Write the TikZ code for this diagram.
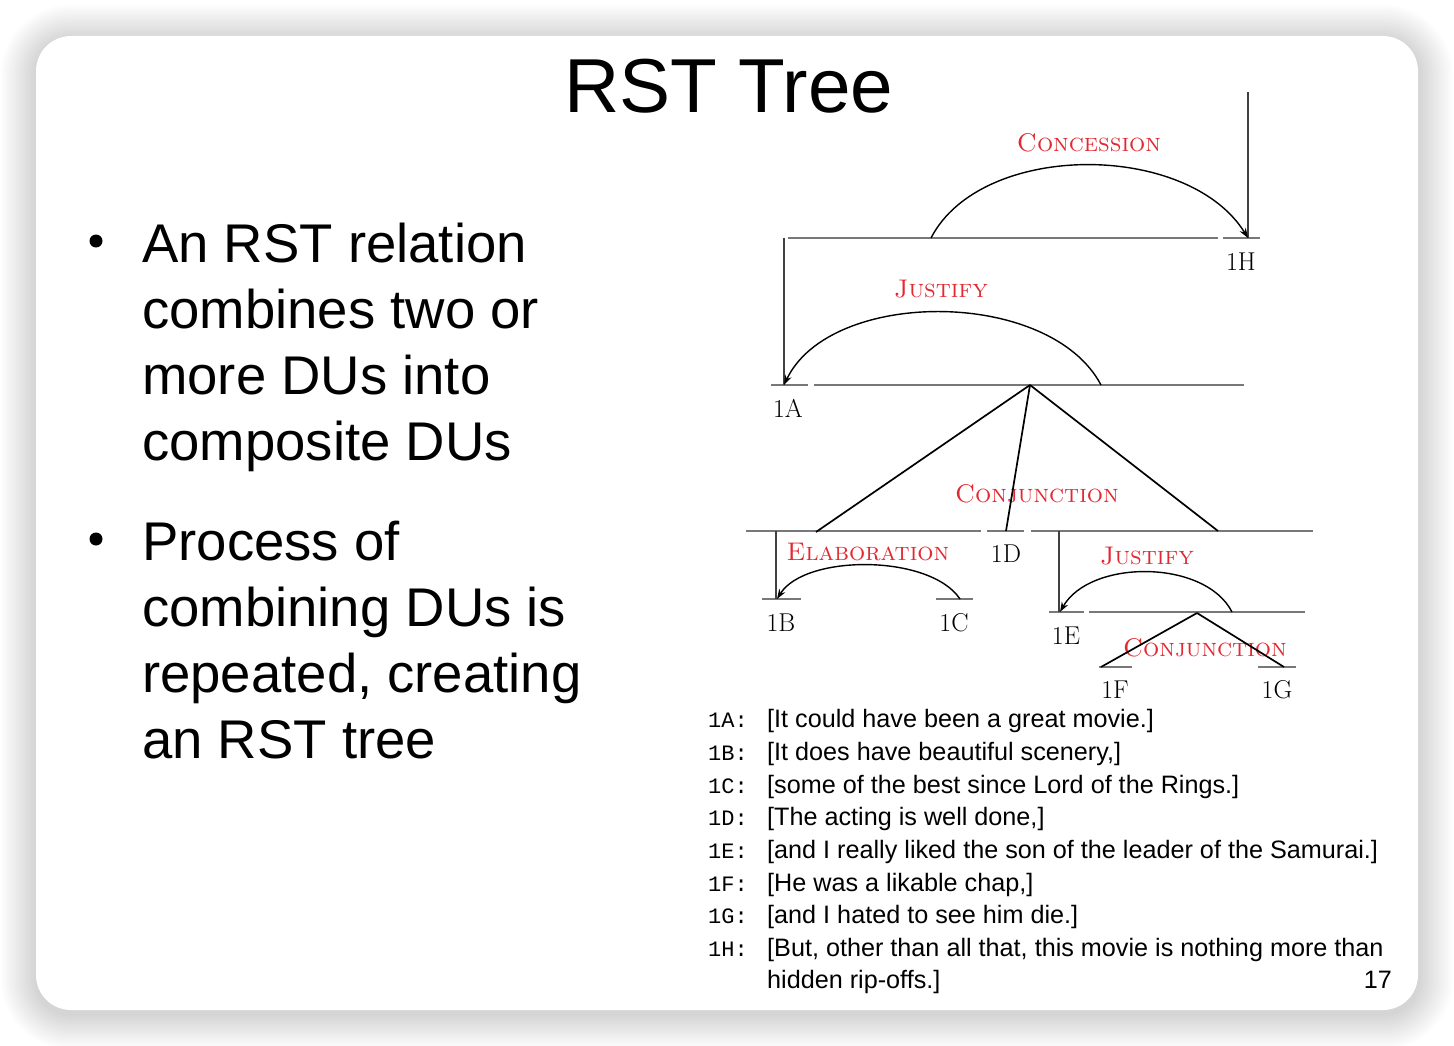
\documentclass[tikz,border=0pt]{standalone}
\usepackage{fontspec}
\setsansfont{Liberation Sans}
\setmonofont{Liberation Mono}
\usetikzlibrary{arrows.meta}
\definecolor{rstred}{RGB}{228,40,50}
\definecolor{spangray}{RGB}{120,120,120}
\begin{document}
\begin{tikzpicture}[x=1pt,y=-1pt,
  span/.style={draw=spangray,line width=1.2pt},
  vert/.style={draw=black!75,line width=1.1pt},
  diag/.style={draw=black,line width=1.7pt},
  relarc/.style={draw=black,line width=1.4pt,-{Stealth[length=10pt,width=7pt]}},
  rel/.style={text=rstred,font=\fontsize{25.5}{30}\selectfont\scshape,inner sep=0pt},
  leaf/.style={font=\fontsize{25.8}{30}\selectfont,inner sep=0pt,anchor=base},
  bul/.style={font=\sffamily\fontsize{54.5}{66}\selectfont,inner sep=0pt,anchor=base west},
  bdot/.style={circle,fill=black,inner sep=0pt,minimum size=13pt},
  ex/.style={font=\sffamily\fontsize{25.2}{30}\selectfont,inner sep=0pt,anchor=base west},
  exlab/.style={font=\ttfamily\fontsize{22}{30}\selectfont,inner sep=0pt,anchor=base west},
]
\useasboundingbox (0,0) rectangle (1454,1046);
\fill[white] (0,0) rectangle (1454,1046);
% shadow
\foreach \i in {1,...,14} {
  \pgfmathsetmacro\rr{35+2.5*\i}
  \fill[black,opacity=0.010,rounded corners=\rr pt]
    (36-2.5*\i,36-2.5*\i+4) rectangle (1418+2.5*\i,1010+2.5*\i+4);
}
% slide
\fill[white,rounded corners=35pt] (36,36) rectangle (1418,1010);

% title
\node[font=\sffamily\fontsize{76.5}{80}\selectfont,anchor=base,inner sep=0pt] (title) at (729,113) {RST Tree};

% bullets
\node[bdot] (d1) at (96,241) {};
\node[bul] (b11) at (142,262) {An RST relation};
\node[bul] (b12) at (142,328) {combines two or};
\node[bul] (b13) at (142,394) {more DUs into};
\node[bul] (b14) at (142,460) {composite DUs};
\node[bdot] (d2) at (96,539) {};
\node[bul] (b21) at (142,560) {Process of};
\node[bul] (b22) at (142,626) {combining DUs is};
\node[bul] (b23) at (142,692) {repeated, creating};
\node[bul] (b24) at (142,758) {an RST tree};

% ---------- tree ----------
% relation labels
\node[rel] (lconc) at (1089,143) {Concession};
\node[rel] (ljus1) at (941,289) {Justify};
\node[rel] (lconj1) at (1037,494) {Conjunction};
\node[rel] (lelab) at (868,552) {Elaboration};
\node[rel] (ljus2) at (1147,556) {Justify};
\node[rel] (lconj2) at (1205,648) {Conjunction};

% leaf labels
\node[leaf] (n1H) at (1241,270) {1H};
\node[leaf] (n1A) at (788,417) {1A};
\node[leaf] (n1D) at (1006,562) {1D};
\node[leaf] (n1B) at (781,631) {1B};
\node[leaf] (n1C) at (954,631) {1C};
\node[leaf] (n1E) at (1066,644) {1E};
\node[leaf] (n1F) at (1115,698) {1F};
\node[leaf] (n1G) at (1277,698) {1G};

% points
\coordinate (Htop) at (1248,92);
\coordinate (H) at (1248,238);
\coordinate (topL) at (784,238);
\coordinate (concS) at (931,238);
\coordinate (A) at (784,385);
\coordinate (jusS) at (1101,385);
\coordinate (C1) at (1030,385);
\coordinate (kL) at (816,532);
\coordinate (D) at (1006,531);
\coordinate (kR) at (1218,531);
\coordinate (bTop) at (776,531);
\coordinate (B) at (777,599);
\coordinate (elS) at (960,599);
\coordinate (eTop) at (1059,531);
\coordinate (E) at (1060,612);
\coordinate (j2S) at (1232,612);
\coordinate (C2) at (1197,613);
\coordinate (F) at (1101,667);
\coordinate (G) at (1284,667);

% spans
\draw[span] (788,238) -- (1218,238);
\draw[span] (1223,238) -- (1260,238);
\draw[span] (771,385) -- (808,385);
\draw[span] (814,385) -- (1244,385);
\draw[span] (746,531) -- (981,531);
\draw[span] (987,531) -- (1024,531);
\draw[span] (1031,531) -- (1313,531);
\draw[span] (762,599) -- (801,599);
\draw[span] (936,599) -- (973,599);
\draw[span] (1049,612) -- (1084,612);
\draw[span] (1089,612) -- (1305,612);
\draw[span] (1099,667) -- (1132,667);
\draw[span] (1258,667) -- (1296,667);

% verticals
\draw[vert] (Htop) -- (H);
\draw[vert] (topL) -- (A);
\draw[vert] (bTop) -- (776,599);
\draw[vert] (eTop) -- (1059,612);

% relation arcs
\draw[relarc] (concS) .. controls (981,141) and (1188,141) .. (H);
\draw[relarc] (jusS) .. controls (1050,288) and (830,288) .. (A);
\draw[relarc] (elS) .. controls (930,554) and (805,554) .. (B);
\draw[relarc] (j2S) .. controls (1205,559) and (1090,559) .. (E);

% multinuclear branches
\draw[diag] (C1) -- (kL);
\draw[diag] (C1) -- (D);
\draw[diag] (C1) -- (kR);
\draw[diag] (C2) -- (F);
\draw[diag] (C2) -- (G);

% ---------- example text ----------
\node[exlab] (e1) at (708,727) {1A:};
\node[ex] (t1) at (767,727) {[It could have been a great movie.]};
\node[exlab] (e2) at (708,760) {1B:};
\node[ex] (t2) at (767,760) {[It does have beautiful scenery,]};
\node[exlab] (e3) at (708,793) {1C:};
\node[ex] (t3) at (767,793) {[some of the best since Lord of the Rings.]};
\node[exlab] (e4) at (708,825) {1D:};
\node[ex] (t4) at (767,825) {[The acting is well done,]};
\node[exlab] (e5) at (708,858) {1E:};
\node[ex] (t5) at (767,858) {[and I really liked the son of the leader of the Samurai.]};
\node[exlab] (e6) at (708,891) {1F:};
\node[ex] (t6) at (767,891) {[He was a likable chap,]};
\node[exlab] (e7) at (708,923) {1G:};
\node[ex] (t7) at (767,923) {[and I hated to see him die.]};
\node[exlab] (e8) at (708,956) {1H:};
\node[ex] (t8) at (767,956) {[But, other than all that, this movie is nothing more than};
\node[ex] (t9) at (767,988) {hidden rip-offs.]};
\node[font=\sffamily\fontsize{25.2}{30}\selectfont,inner sep=0pt,anchor=base east] (pg) at (1392,988) {17};
\end{tikzpicture}
\end{document}
